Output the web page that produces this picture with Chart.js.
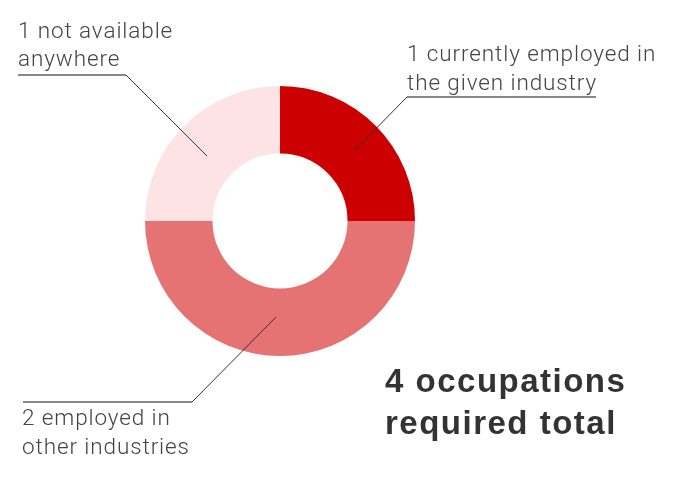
<!DOCTYPE html>
<html>
<head>
<meta charset="utf-8">
<script src="https://cdn.jsdelivr.net/npm/chart.js@4/dist/chart.umd.min.js"></script>
<style>
html,body{margin:0;padding:0;background:#fff;}
#wrap{position:relative;width:676px;height:477px;}
</style>
</head>
<body>
<div id="wrap"><canvas id="c" width="676" height="477"></canvas></div>
<script>
const categories = ["currently employed in the given industry", "employed in other industries", "not available anywhere"];
const values = [1, 2, 1];
const labelLines = [
  ["1 currently employed in", "the given industry"],
  ["2 employed in", "other industries"],
  ["1 not available", "anywhere"]
];
const colors = ["#cc0000", "#e57373", "#fde3e3"];
const totalLines = ["4 occupations", "required total"];

const labelLayout = [
  {x: 407, y: [61, 90], ul: [407, 596, 97], from: [407, 97], lead: [354, 151]},
  {x: 22, y: [425, 454], ul: [23, 192, 402], from: [192, 402], lead: [276, 317]},
  {x: 18, y: [38, 66], ul: [18, 126, 75], from: [126, 75], lead: [207, 156]}
];

const annot = {
  id: 'annot',
  afterDraw(chart) {
    const ctx = chart.ctx;
    ctx.save();
    labelLayout.forEach((L, i) => {
      ctx.strokeStyle = '#333';
      ctx.lineWidth = 1;
      ctx.beginPath();
      ctx.moveTo(L.from[0], L.from[1]);
      ctx.lineTo(L.lead[0], L.lead[1]);
      ctx.stroke();
      ctx.strokeStyle = '#888';
      ctx.lineWidth = 2;
      ctx.beginPath();
      ctx.moveTo(L.ul[0], L.ul[2]);
      ctx.lineTo(L.ul[1], L.ul[2]);
      ctx.stroke();
      ctx.fillStyle = '#444';
      ctx.font = '300 22.5px Roboto';
      ctx.letterSpacing = '0.9px';
      ctx.textBaseline = 'alphabetic';
      ctx.textAlign = 'left';
      labelLines[i].forEach((t, k) => ctx.fillText(t, L.x, L.y[k]));
    });
    ctx.fillStyle = '#333';
    ctx.letterSpacing = '1.5px';
    ctx.font = 'bold 33px "Liberation Sans"';
    ctx.fillText(totalLines[0], 385, 392);
    ctx.fillText(totalLines[1], 385, 434);
    ctx.restore();
  }
};

new Chart(document.getElementById('c'), {
  type: 'doughnut',
  data: {
    labels: categories,
    datasets: [{data: values, backgroundColor: colors, borderWidth: 0, hoverOffset: 0}]
  },
  options: {
    responsive: false,
    animation: false,
    cutout: '50%',
    layout: {padding: {left: 145, right: 261, top: 86, bottom: 121}},
    plugins: {legend: {display: false}, tooltip: {enabled: false}},
    events: []
  },
  plugins: [annot]
});
</script>
</body>
</html>
